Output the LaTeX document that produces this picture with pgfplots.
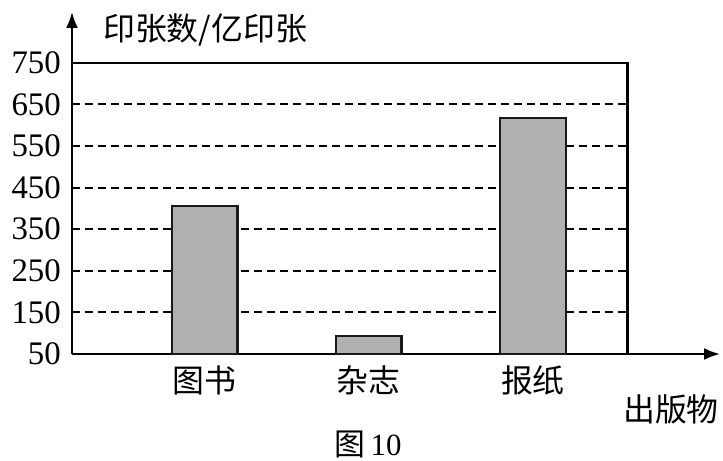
\documentclass[border=0pt]{standalone}
\usepackage{fontspec}
\setmainfont{Liberation Serif}
\newfontfamily\cjk{Noto Sans CJK SC}
\usepackage{pgfplots}
\pgfplotsset{compat=1.18}
\usetikzlibrary{arrows.meta}
\begin{document}
\fontsize{33}{38}\selectfont
\begin{tikzpicture}
\begin{axis}[
  scale only axis, width=648bp, height=342bp,
  xmin=-0.808, xmax=3.14, ymin=50, ymax=872,
  axis lines=left,
  axis line style={line width=2.2bp, -{Latex[length=16bp,width=12bp]}},
  ytick={50,150,...,750},
  xtick={0,1,2},
  xticklabels={图书,杂志,报纸},
  tick label style={font=\fontsize{33}{38}\selectfont},
  xticklabel style={font=\fontsize{32}{38}\selectfont\cjk, yshift=-1bp},
  major tick length=0pt,
  /pgf/number format/assume math mode=true,
  clip mode=individual,
]
% dashed grid, only inside the frame
\foreach \v in {150,250,...,650}{
  \edef\tmp{\noexpand\addplot[line width=2bp, dash pattern=on 8bp off 5bp, forget plot] coordinates {(-0.808,\v) (2.576,\v)};}
  \tmp
}
% frame: top and right
\addplot[line width=2.2bp, forget plot] coordinates {(-0.808,750) (2.576,750) (2.576,50)};
% bars
\addplot[ybar, bar width=0.4, fill=gray!62, draw=black!90, line width=2.2bp] coordinates {(0,405) (1,94) (2,618)};
\node[anchor=west, font=\fontsize{32}{38}\selectfont\cjk] at ([xshift=20bp,yshift=324bp]rel axis cs:0,0) {印张数/亿印张};
\node[anchor=west, font=\fontsize{32}{38}\selectfont\cjk] at ([xshift=540bp,yshift=-55bp]rel axis cs:0,0) {出版物};
\node[font=\fontsize{31}{36}\selectfont] at ([xshift=296bp,yshift=-90bp]rel axis cs:0,0) {{\cjk 图}\,10};
\coordinate (o) at (rel axis cs:0,0);
\end{axis}
\pgfresetboundingbox
\path ([xshift=-72bp,yshift=-107bp]o) rectangle ++(723bp,461bp);
\end{tikzpicture}
\end{document}
